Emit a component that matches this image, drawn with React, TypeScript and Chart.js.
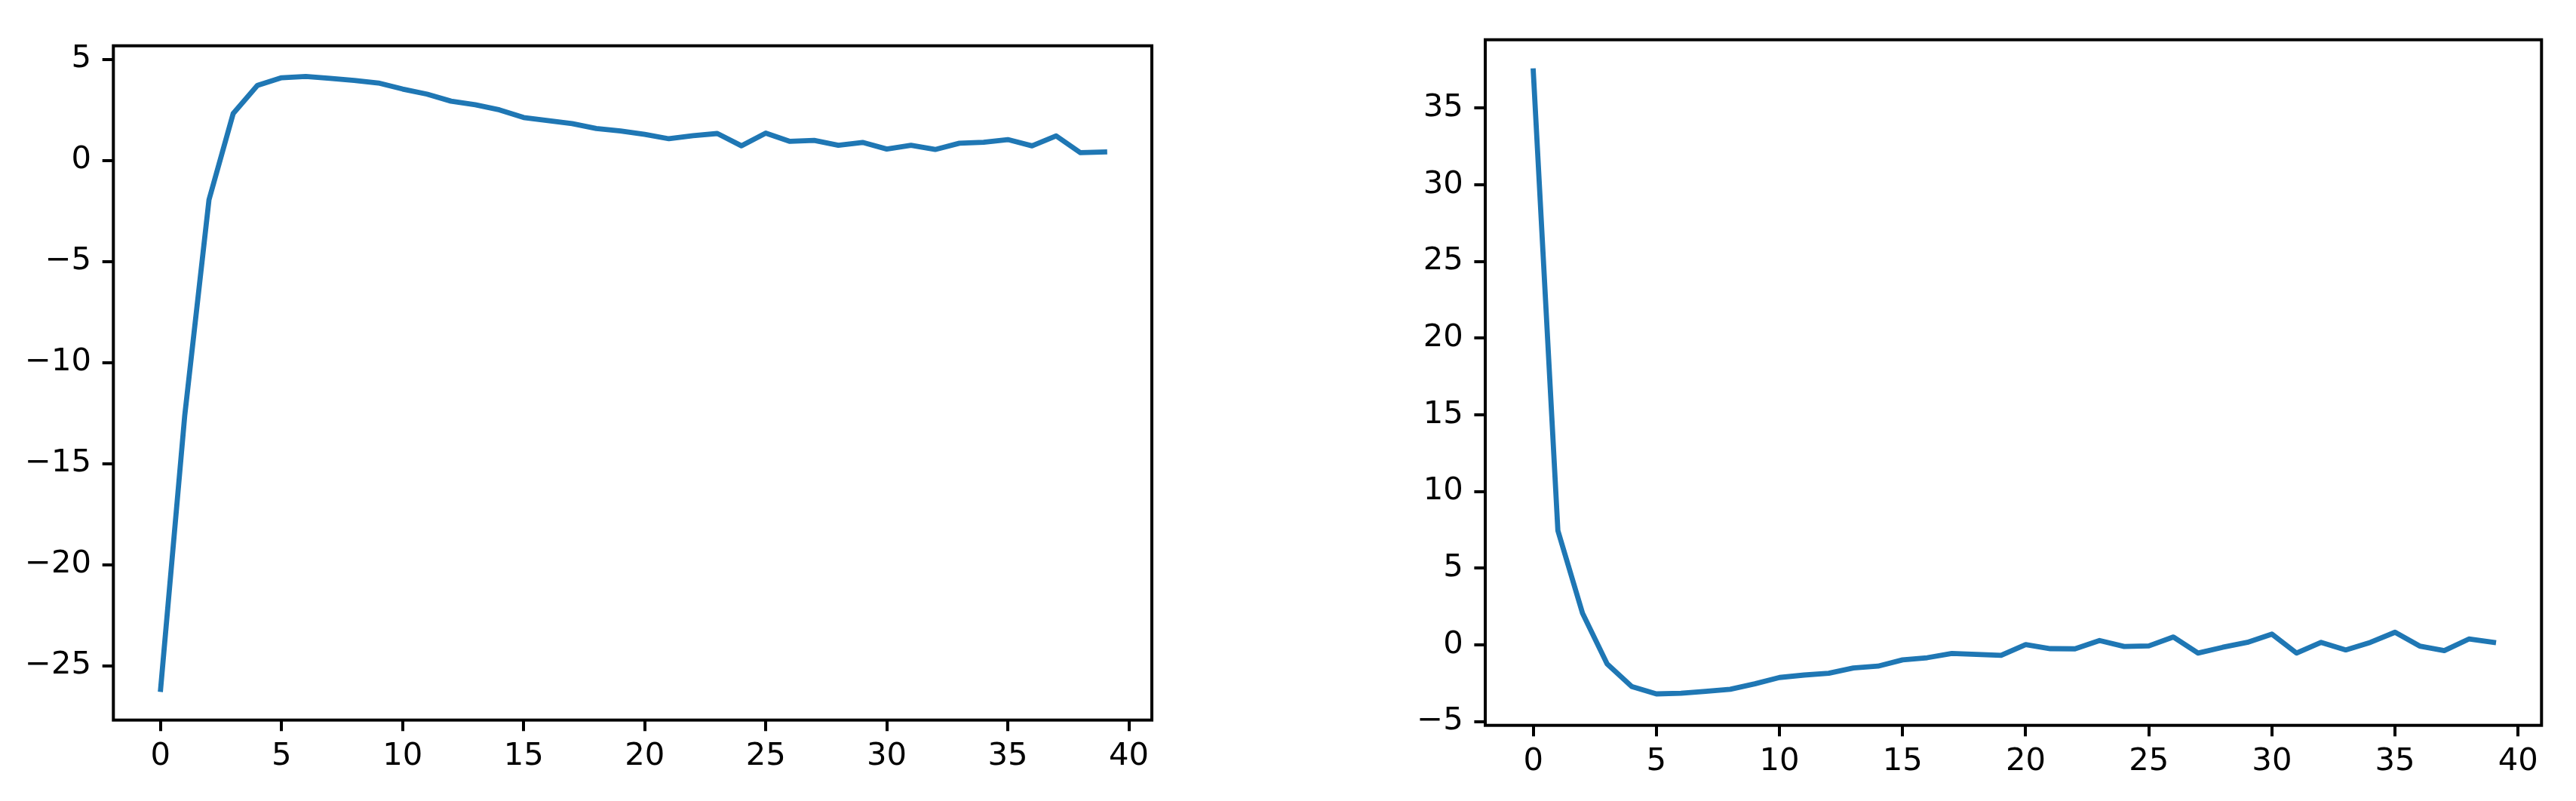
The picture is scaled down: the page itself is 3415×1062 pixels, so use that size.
import React, { useEffect, useRef } from "react";
import { Chart, registerables } from "chart.js";

Chart.register(...registerables);

// ---- data ----
const steps = [
  0, 1, 2, 3, 4, 5, 6, 7, 8, 9, 10, 11, 12, 13, 14, 15, 16, 17, 18, 19,
  20, 21, 22, 23, 24, 25, 26, 27, 28, 29, 30, 31, 32, 33, 34, 35, 36, 37, 38, 39,
];

const leftValues = [
  -26.17, -12.6, -1.95, 2.32, 3.71, 4.09, 4.15, 4.06, 3.96, 3.83,
  3.53, 3.28, 2.93, 2.75, 2.5, 2.12, 1.97, 1.82, 1.58, 1.46,
  1.29, 1.07, 1.22, 1.33, 0.72, 1.35, 0.94, 0.99, 0.75, 0.89,
  0.56, 0.75, 0.54, 0.85, 0.9, 1.03, 0.72, 1.21, 0.38, 0.42,
];

const rightValues = [
  37.42, 7.45, 2.06, -1.24, -2.72, -3.2, -3.16, -3.03, -2.9, -2.54,
  -2.13, -1.97, -1.85, -1.51, -1.39, -0.98, -0.84, -0.56, -0.62, -0.69,
  0.02, -0.25, -0.26, 0.28, -0.11, -0.07, 0.51, -0.54, -0.16, 0.16,
  0.7, -0.54, 0.16, -0.33, 0.16, 0.82, -0.08, -0.38, 0.38, 0.16,
];

const xTicks = [0, 5, 10, 15, 20, 25, 30, 35, 40];
const leftYTicks = [-25, -20, -15, -10, -5, 0, 5];
const rightYTicks = [-5, 0, 5, 10, 15, 20, 25, 30, 35];

// ---- styling ----
const LINE_COLOR = "#1f77b4";
const FONT = { family: "'DejaVu Sans', sans-serif", size: 41.7 };
const TICK_LEN = 14.6;
const SPINE_W = 4;

const fmt = (v: number) => String(v).replace("-", "\u2212");

const spinePlugin = {
  id: "spines",
  afterDatasetsDraw(chart: any) {
    const { ctx, chartArea } = chart;
    const { left, top, right, bottom } = chartArea;
    ctx.save();
    ctx.strokeStyle = "#000";
    ctx.lineWidth = SPINE_W;
    ctx.lineJoin = "miter";
    ctx.strokeRect(left, top, right - left, bottom - top);
    ctx.restore();
  },
};

type PanelProps = {
  values: number[];
  yTicks: number[];
  yMin: number;
  yMax: number;
  xMin: number;
  xMax: number;
  canvasLeft: number;
  canvasWidth: number;
  pad: { left: number; right: number; top: number; bottom: number };
};

function Panel(p: PanelProps) {
  const ref = useRef<HTMLCanvasElement>(null);
  useEffect(() => {
    if (!ref.current) return;
    const chart = new Chart(ref.current, {
      type: "line",
      data: {
        datasets: [
          {
            data: steps.map((s, i) => ({ x: s, y: p.values[i] })),
            borderColor: LINE_COLOR,
            borderWidth: 6.8,
            pointRadius: 0,
            tension: 0,
            fill: false,
            borderCapStyle: "square",
            borderJoinStyle: "round",
          },
        ],
      },
      options: {
        animation: false,
        responsive: false,
        devicePixelRatio: 1,
        layout: { padding: p.pad },
        plugins: { legend: { display: false }, tooltip: { enabled: false } },
        scales: {
          x: {
            type: "linear",
            min: p.xMin,
            max: p.xMax,
            afterBuildTicks: (s: any) => {
              s.ticks = xTicks.map((v) => ({ value: v }));
            },
            afterFit: (s: any) => {
              s.height = 100;
            },
            grid: {
              drawOnChartArea: false,
              drawTicks: true,
              tickLength: TICK_LEN,
              lineWidth: SPINE_W,
              color: "#000",
            },
            border: { display: false },
            ticks: {
              font: FONT,
              color: "#000",
              padding: 9,
              maxRotation: 0,
              autoSkip: false,
              callback: (v: any) => fmt(Number(v)),
            },
          },
          y: {
            type: "linear",
            min: p.yMin,
            max: p.yMax,
            afterBuildTicks: (s: any) => {
              s.ticks = p.yTicks.map((v) => ({ value: v }));
            },
            afterFit: (s: any) => {
              s.width = 140;
            },
            grid: {
              drawOnChartArea: false,
              drawTicks: true,
              tickLength: TICK_LEN,
              lineWidth: SPINE_W,
              color: "#000",
            },
            border: { display: false },
            ticks: {
              font: FONT,
              color: "#000",
              padding: 14.6,
              autoSkip: false,
              callback: (v: any) => fmt(Number(v)),
            },
          },
        },
      },
      plugins: [spinePlugin],
    } as any);
    return () => chart.destroy();
  }, []);
  return (
    <canvas
      ref={ref}
      width={p.canvasWidth}
      height={1062}
      style={{ position: "absolute", left: p.canvasLeft, top: 0, width: p.canvasWidth, height: 1062 }}
    />
  );
}

export default function App() {
  return (
    <div
      style={{
        position: "absolute",
        left: 0,
        top: 0,
        width: 3415,
        height: 1062,
        background: "#fff",
        overflow: "hidden",
      }}
    >
      <Panel
        values={leftValues}
        yTicks={leftYTicks}
        yMin={-27.69}
        yMax={5.67}
        xMin={-1.95}
        xMax={40.95}
        canvasLeft={0}
        canvasWidth={1700}
        pad={{ left: 10.3, right: 173, top: 60.7, bottom: 7.3 }}
      />
      <Panel
        values={rightValues}
        yTicks={rightYTicks}
        yMin={-5.25}
        yMax={39.45}
        xMin={-1.95}
        xMax={40.95}
        canvasLeft={1750}
        canvasWidth={1665}
        pad={{ left: 79, right: 45.7, top: 52.7, bottom: 0.3 }}
      />
    </div>
  );
}
